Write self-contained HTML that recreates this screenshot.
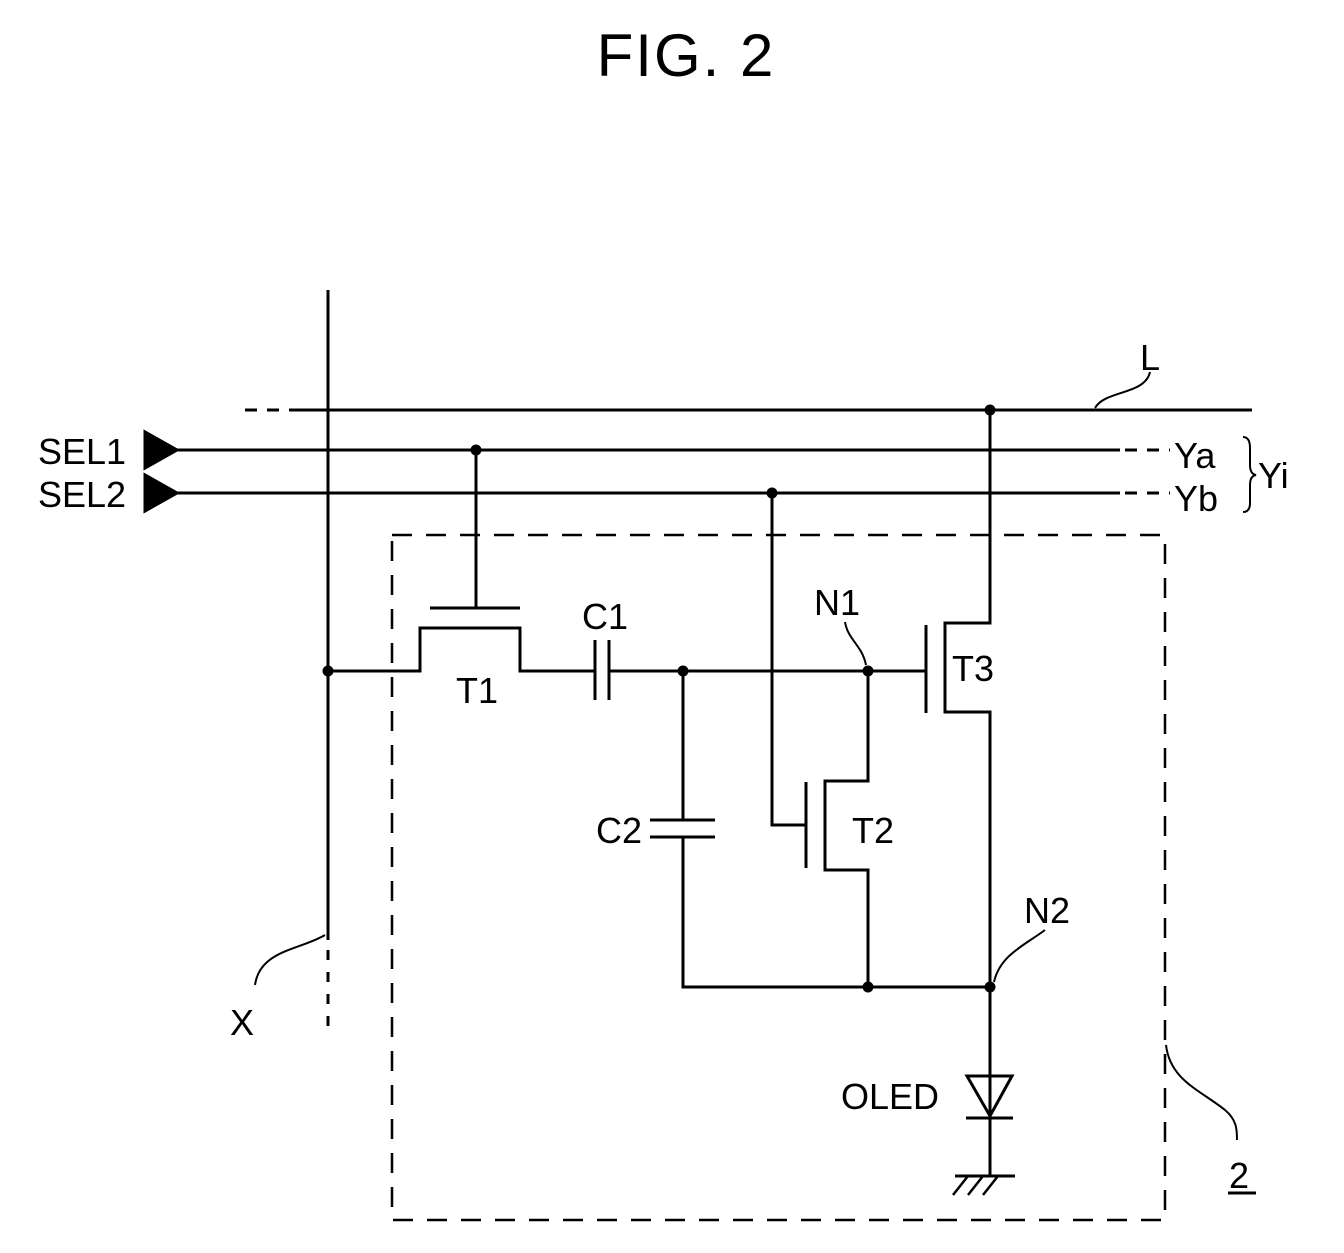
<!DOCTYPE html>
<html><head><style>body{margin:0;background:#fff}svg{display:block}text{font-family:"Liberation Sans",Arial,sans-serif;fill:#000}</style></head>
<body>
<svg width="1344" height="1253" viewBox="0 0 1344 1253" xmlns="http://www.w3.org/2000/svg">
<g stroke="#000" stroke-width="3" fill="none">
<text x="686" y="76" font-size="60" text-anchor="middle" stroke="none" letter-spacing="2">FIG.  2</text>
<line x1="328" y1="290" x2="328" y2="940"/>
<line x1="328" y1="950" x2="328" y2="1030" stroke-dasharray="10 12"/>
<path d="M325 935 C300 950 260 950 255 985" stroke-width="2"/>
<line x1="245" y1="410" x2="300" y2="410" stroke-dasharray="12 10"/>
<line x1="300" y1="410" x2="1252" y2="410"/>
<path d="M1150 372 C1145 395 1105 390 1095 408" stroke-width="2"/>
<line x1="175" y1="450" x2="1120" y2="450"/>
<line x1="1125" y1="450" x2="1170" y2="450" stroke-dasharray="12 10"/>
<line x1="175" y1="493" x2="1120" y2="493"/>
<line x1="1125" y1="493" x2="1170" y2="493" stroke-dasharray="12 10"/>
<polygon points="145,432 145,468 177,450" fill="#000"/>
<polygon points="145,475 145,511 177,493" fill="#000"/>
<path d="M1243 437 Q1250 437 1250 448 L1250 465 Q1250 474 1256 475 Q1250 476 1250 485 L1250 503 Q1250 512 1243 512" stroke-width="2"/>
<rect x="392" y="535" width="773" height="685" stroke-dasharray="20 14" stroke-width="2.5"/>
<line x1="476" y1="450" x2="476" y2="608"/>
<line x1="430" y1="608" x2="520" y2="608"/>
<polyline points="328,671 420,671 420,628 520,628 520,671 596,671"/>
<line x1="595" y1="640" x2="595" y2="700"/>
<line x1="609" y1="640" x2="609" y2="700"/>
<line x1="609" y1="671" x2="926" y2="671"/>
<line x1="683" y1="671" x2="683" y2="820"/>
<line x1="650" y1="820" x2="715" y2="820"/>
<line x1="650" y1="837" x2="715" y2="837"/>
<polyline points="683,837 683,987 990,987"/>
<line x1="926" y1="625" x2="926" y2="713"/>
<polyline points="990,410 990,623 945,623 945,712 990,712 990,987"/>
<polyline points="772,493 772,825 806,825"/>
<line x1="806" y1="782" x2="806" y2="868"/>
<polyline points="868,671 868,781 825,781 825,870 868,870 868,987"/>
<path d="M845 622 C848 640 862 645 866 665" stroke-width="2"/>
<path d="M1045 930 C1025 945 1000 955 994 982" stroke-width="2"/>
<line x1="990" y1="987" x2="990" y2="1176"/>
<polygon points="967,1076 1012,1076 990,1116"/>
<line x1="966" y1="1118" x2="1013" y2="1118"/>
<line x1="955" y1="1176" x2="1015" y2="1176"/>
<line x1="968" y1="1176" x2="953" y2="1195" stroke-width="2.5"/>
<line x1="983" y1="1176" x2="968" y2="1195" stroke-width="2.5"/>
<line x1="998" y1="1176" x2="983" y2="1195" stroke-width="2.5"/>
<path d="M1166 1045 C1170 1080 1200 1090 1225 1110 C1237 1120 1237 1130 1237 1140" stroke-width="2"/>
<line x1="1228" y1="1193" x2="1256" y2="1193"/>
</g>
<g fill="#000">
<circle cx="328" cy="671" r="5.5"/><circle cx="990" cy="410" r="5.5"/><circle cx="476" cy="450" r="5.5"/>
<circle cx="772" cy="493" r="5.5"/><circle cx="683" cy="671" r="5.5"/><circle cx="868" cy="671" r="5.5"/>
<circle cx="868" cy="987" r="5.5"/><circle cx="990" cy="987" r="5.5"/>
</g>
<g font-size="36">
<text x="38" y="464">SEL1</text>
<text x="38" y="507">SEL2</text>
<text x="1140" y="370">L</text>
<text x="1174" y="468">Ya</text>
<text x="1174" y="511">Yb</text>
<text x="1258" y="488">Yi</text>
<text x="456" y="703">T1</text>
<text x="582" y="629">C1</text>
<text x="814" y="615">N1</text>
<text x="952" y="681">T3</text>
<text x="596" y="843">C2</text>
<text x="852" y="843">T2</text>
<text x="1024" y="923">N2</text>
<text x="841" y="1109">OLED</text>
<text x="230" y="1035">X</text>
<text x="1229" y="1188">2</text>
</g>
</svg>
</body></html>
